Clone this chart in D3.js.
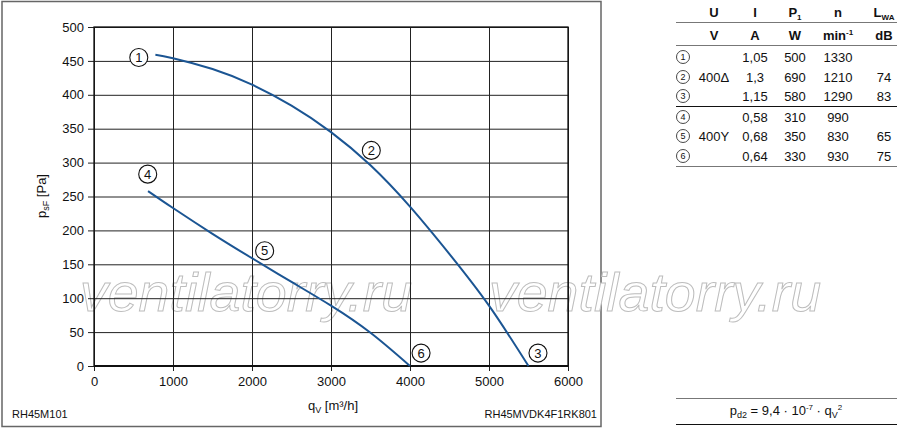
<!DOCTYPE html>
<html>
<head>
<meta charset="utf-8">
<title>RH45M fan curves</title>
<script src="https://d3js.org/d3.v7.min.js"></script>
<style>
  body { margin: 0; background: #fff; }
  text { font-family: "Liberation Sans", Arial, sans-serif; fill: #111; }
  .grid line { stroke: #222; stroke-width: 1; }
  .grid path { display: none; }
  .axis path { display: none; }
  .axis line { stroke: #222; }
  .axis text { font-size: 13px; }
</style>
</head>
<body>
<script>
// curve 1-2-3 (400 delta) and 4-5-6 (400 Y), q in m3/h, p in Pa
var qHigh = [777, 1000, 1500, 2000, 2500, 3000, 3500, 4000, 4500, 5000, 5500];
var pHigh = [459, 454, 438, 415, 384, 345, 296, 235, 165, 89, 0];
var qLow = [684, 1000, 1500, 2000, 2500, 3000, 3500, 4000];
var pLow = [258, 233, 195, 159, 124, 89, 49, 0];

// circled point labels
var labelIds = ["1", "2", "3", "4", "5", "6"];
var labelQ = [567, 3510, 5620, 680, 2160, 4140];
var labelP = [455, 318, 19, 283, 170, 19];

var xTicks = [0, 1000, 2000, 3000, 4000, 5000, 6000];
var yTicks = [0, 50, 100, 150, 200, 250, 300, 350, 400, 450, 500];

// table
var tableHead1 = ["U", "I", "P", "n", "L"];
var tableHead2 = ["V", "A", "W", "min", "dB"];
var tableU = ["", "400Δ", "", "", "400Y", ""];
var tableI = ["1,05", "1,3", "1,15", "0,58", "0,68", "0,64"];
var tableP = ["500", "690", "580", "310", "350", "330"];
var tableN = ["1330", "1210", "1290", "990", "830", "930"];
var tableL = ["", "74", "83", "", "65", "75"];

var W = 900, H = 429;
var plot = {left: 94, right: 568, top: 27, bottom: 366};

var svg = d3.select("body").append("svg")
  .attr("width", W).attr("height", H);

// outer frame
svg.append("rect")
  .attr("x", 2).attr("y", 1.5).attr("width", 599).attr("height", 425)
  .attr("fill", "none").attr("stroke", "#666").attr("stroke-width", 1.5);

var x = d3.scaleLinear().domain([0, 6000]).range([plot.left, plot.right]);
var y = d3.scaleLinear().domain([0, 500]).range([plot.bottom, plot.top]);

// watermark
function watermark(x0) {
  svg.append("text")
    .attr("x", x0).attr("y", 311)
    .attr("textLength", 332).attr("lengthAdjust", "spacingAndGlyphs")
    .style("font-size", "54px").style("font-style", "italic")
    .style("fill", "#fff").style("stroke", "#bdbdbd").style("stroke-width", 1)
    .text("ventilatorry.ru");
}

watermark(80);
watermark(489);

// grid over the watermark
svg.append("g").attr("class", "grid")
  .attr("transform", `translate(0,${plot.bottom})`)
  .call(d3.axisBottom(x).tickValues(xTicks).tickSize(-(plot.bottom - plot.top)).tickFormat(""));
svg.append("g").attr("class", "grid")
  .attr("transform", `translate(${plot.left},0)`)
  .call(d3.axisLeft(y).tickValues(yTicks).tickSize(-(plot.right - plot.left)).tickFormat(""));

// axes
svg.append("g").attr("class", "axis")
  .attr("transform", `translate(0,${plot.bottom})`)
  .call(d3.axisBottom(x).tickValues(xTicks).tickSize(5).tickPadding(6).tickFormat(d3.format("d")));
svg.append("g").attr("class", "axis")
  .attr("transform", `translate(${plot.left},0)`)
  .call(d3.axisLeft(y).tickValues(yTicks).tickSize(6).tickPadding(4).tickFormat(d3.format("d")));

// zero line and plot border
svg.append("line")
  .attr("x1", plot.left).attr("x2", plot.right)
  .attr("y1", plot.bottom).attr("y2", plot.bottom)
  .attr("stroke", "#111").attr("stroke-width", 2.2);
svg.append("rect")
  .attr("x", plot.left).attr("y", plot.top)
  .attr("width", plot.right - plot.left).attr("height", plot.bottom - plot.top)
  .attr("fill", "none").attr("stroke", "#111").attr("stroke-width", 1.3);

// curves
var line = d3.line()
  .x(function(d) { return x(d[0]); })
  .y(function(d) { return y(d[1]); })
  .curve(d3.curveNatural);

[[qHigh, pHigh], [qLow, pLow]].forEach(function(s) {
  svg.append("path")
    .datum(d3.zip(s[0], s[1]))
    .attr("d", line)
    .attr("fill", "none")
    .attr("stroke", "#1b5593")
    .attr("stroke-width", 2);
});

// circled labels
labelIds.forEach(function(id, i) {
  var g = svg.append("g")
    .attr("transform", `translate(${x(labelQ[i])},${y(labelP[i])})`);
  g.append("circle").attr("r", 9)
    .attr("fill", "#fff").attr("stroke", "#111").attr("stroke-width", 1.1);
  g.append("text").attr("text-anchor", "middle").attr("dy", "0.36em")
    .style("font-size", "13px").text(id);
});

// axis titles
var xt = svg.append("text")
  .attr("x", 333).attr("y", 410).attr("text-anchor", "middle")
  .style("font-size", "13px");
xt.append("tspan").text("q");
xt.append("tspan").attr("dy", 3).style("font-size", "9px").text("V");
xt.append("tspan").attr("dy", -3).text(" [m³/h]");

var yt = svg.append("text")
  .attr("transform", "translate(46,196) rotate(-90)")
  .attr("text-anchor", "middle")
  .style("font-size", "13px");
yt.append("tspan").text("p");
yt.append("tspan").attr("dy", 3).style("font-size", "9px").text("sF");
yt.append("tspan").attr("dy", -3).text(" [Pa]");

svg.append("text").attr("x", 12).attr("y", 418)
  .style("font-size", "11px").text("RH45M101");
svg.append("text").attr("x", 597).attr("y", 418).attr("text-anchor", "end")
  .style("font-size", "11px").text("RH45MVDK4F1RK801");

// table
var colX = [714, 755, 795, 838, 884];
var tl = 676, tr = 897;
var rowY = [57, 77, 96, 117, 136, 156];

var h1 = svg.append("g").style("font-weight", "bold");
tableHead1.forEach(function(t, i) {
  var tx = h1.append("text").attr("x", colX[i]).attr("y", 17)
    .attr("text-anchor", "middle").style("font-size", "13px");
  tx.append("tspan").text(t);
  if (i === 2) tx.append("tspan").attr("dy", 3).style("font-size", "8px").text("1");
  if (i === 4) tx.append("tspan").attr("dy", 3).style("font-size", "8px").text("WA");
});
tableHead2.forEach(function(t, i) {
  var tx = h1.append("text").attr("x", colX[i]).attr("y", 40)
    .attr("text-anchor", "middle").style("font-size", "13px");
  tx.append("tspan").text(t);
  if (i === 3) tx.append("tspan").attr("dy", -5).style("font-size", "8px").text("-1");
});

function hline(yy, color, w) {
  svg.append("line").attr("x1", tl).attr("x2", tr)
    .attr("y1", yy).attr("y2", yy)
    .attr("stroke", color).attr("stroke-width", w);
}
hline(22.5, "#777", 1.2);
hline(45.5, "#777", 1.2);
hline(106.5, "#111", 1.2);
hline(166.5, "#777", 1.2);

rowY.forEach(function(ry, i) {
  var g = svg.append("g").attr("transform", `translate(683,${ry})`);
  g.append("circle").attr("r", 6.5).attr("fill", "#fff")
    .attr("stroke", "#333").attr("stroke-width", 0.9);
  g.append("text").attr("text-anchor", "middle").attr("dy", "0.36em")
    .style("font-size", "9px").text(labelIds[i]);
  [tableU[i], tableI[i], tableP[i], tableN[i], tableL[i]].forEach(function(v, j) {
    svg.append("text").attr("x", colX[j]).attr("y", ry + 5)
      .attr("text-anchor", "middle").style("font-size", "13px").text(v);
  });
});

// formula
hline(398.5, "#777", 1.2);
hline(424.5, "#111", 1.2);
var f = svg.append("text").attr("x", 786).attr("y", 415)
  .attr("text-anchor", "middle").style("font-size", "13px");
f.append("tspan").text("p");
f.append("tspan").attr("dy", 3).style("font-size", "9px").text("d2");
f.append("tspan").attr("dy", -3).text(" = 9,4 · 10");
f.append("tspan").attr("dy", -5).style("font-size", "8px").text("-7");
f.append("tspan").attr("dy", 5).text(" · q");
f.append("tspan").attr("dy", 3).style("font-size", "9px").text("V");
f.append("tspan").attr("dy", -8).style("font-size", "8px").text("2");
</script>
</body>
</html>
